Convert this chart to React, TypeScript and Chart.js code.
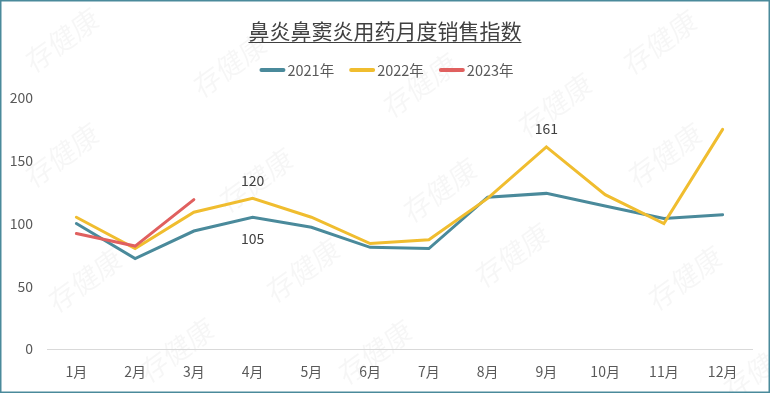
import React, { useEffect, useRef } from "react";
import { Chart, registerables } from "chart.js";

Chart.register(...registerables);

const TITLE = "鼻炎鼻窦炎用药月度销售指数";
const MONTHS = ["1月", "2月", "3月", "4月", "5月", "6月", "7月", "8月", "9月", "10月", "11月", "12月"];
const SERIES_NAMES = ["2021年", "2022年", "2023年"];
const SERIES_COLORS = ["#4a8a9b", "#f0bd2f", "#e0605f"];
const DATA_2021 = [100, 72, 94, 105, 97, 81, 80, 121, 124, 114, 104, 107];
const DATA_2022 = [105, 80, 109, 120, 105, 84, 87, 120, 161, 123, 100, 175];
const DATA_2023 = [92, 82, 119];
const Y_TICKS = [0, 50, 100, 150, 200];
// [datasetIndex, pointIndex, position]
const VALUE_LABELS: [number, number, "above" | "below"][] = [
  [1, 3, "above"],
  [0, 3, "below"],
  [1, 8, "above"],
];
const WATERMARK = "存健康";
const WATERMARK_SPOTS: [number, number][] = [
  [62, 40], [230, 65], [62, 155], [256, 180], [420, 85], [555, 105], [660, 42],
  [665, 155], [440, 190], [85, 280], [303, 270], [177, 350], [375, 352],
  [512, 255], [685, 278], [760, 368],
];

const FONT = '"Noto Sans CJK SC", "Noto Sans", sans-serif';

const decorPlugin = {
  id: "decor",
  beforeDraw(chart: any) {
    const ctx = chart.ctx;
    ctx.save();
    ctx.fillStyle = "#ffffff";
    ctx.fillRect(0, 0, chart.width, chart.height);
    ctx.font = `28px ${FONT}`;
    ctx.fillStyle = "rgba(0,0,0,0.035)";
    ctx.textAlign = "center";
    ctx.textBaseline = "middle";
    for (const [x, y] of WATERMARK_SPOTS) {
      ctx.save();
      ctx.translate(x, y);
      ctx.rotate(-Math.PI / 5);
      ctx.transform(1, 0, -0.15, 1, 0, 0);
      ctx.fillText(WATERMARK, 0, 0);
      ctx.restore();
    }
    // title
    ctx.font = `21px ${FONT}`;
    ctx.fillStyle = "#404040";
    ctx.textAlign = "center";
    ctx.textBaseline = "middle";
    const cx = chart.width / 2;
    ctx.fillText(TITLE, cx, 31);
    const tw = ctx.measureText(TITLE).width;
    ctx.strokeStyle = "#404040";
    ctx.lineWidth = 1;
    ctx.beginPath();
    ctx.moveTo(cx - tw / 2, 42.5);
    ctx.lineTo(cx + tw / 2, 42.5);
    ctx.stroke();
    // legend
    ctx.font = `14.5px ${FONT}`;
    const lineW = 24;
    const gap = 3;
    const spacing = 16;
    const widths = chart.data.datasets.map((d: any) => lineW + gap + ctx.measureText(d.label).width);
    const total = widths.reduce((a: number, b: number) => a + b, 0) + spacing * (widths.length - 1);
    let x = cx - total / 2 + 2;
    const ly = 70;
    chart.data.datasets.forEach((d: any, i: number) => {
      ctx.strokeStyle = d.borderColor;
      ctx.lineWidth = 4;
      ctx.lineCap = "round";
      ctx.beginPath();
      ctx.moveTo(x + 1, ly);
      ctx.lineTo(x + lineW - 1, ly);
      ctx.stroke();
      ctx.fillStyle = "#595959";
      ctx.textAlign = "left";
      ctx.fillText(d.label, x + lineW + gap, ly);
      x += widths[i] + spacing;
    });
    ctx.restore();
  },
  afterDatasetsDraw(chart: any) {
    const ctx = chart.ctx;
    ctx.save();
    ctx.font = `14px ${FONT}`;
    ctx.fillStyle = "#404040";
    ctx.textAlign = "center";
    ctx.textBaseline = "middle";
    for (const [di, pi, pos] of VALUE_LABELS) {
      const el = chart.getDatasetMeta(di).data[pi];
      const v = chart.data.datasets[di].data[pi];
      const y = pos === "above" ? el.y - 18 : el.y + 21;
      ctx.fillText(String(v), el.x, y);
    }
    ctx.restore();
  },
  afterDraw(chart: any) {
    const ctx = chart.ctx;
    ctx.save();
    ctx.strokeStyle = "#4a8a9b";
    ctx.lineWidth = 1.5;
    ctx.strokeRect(0.75, 0.75, chart.width - 1.5, chart.height - 1.5);
    ctx.restore();
  },
};

export default function App() {
  const ref = useRef<HTMLCanvasElement | null>(null);
  useEffect(() => {
    document.body.style.margin = "0";
    if (!ref.current) return;
    const datasets = [DATA_2021, DATA_2022, DATA_2023].map((data, i) => ({
      label: SERIES_NAMES[i],
      data,
      borderColor: SERIES_COLORS[i],
      backgroundColor: SERIES_COLORS[i],
      borderWidth: 3,
      pointRadius: 0,
      tension: 0,
      fill: false,
      borderCapStyle: "round" as const,
      borderJoinStyle: "miter" as const,
      order: 3 - i,
    }));
    const chart = new Chart(ref.current, {
      type: "line",
      data: { labels: MONTHS, datasets },
      options: {
        animation: false,
        responsive: false,
        layout: { padding: { top: 98, right: 18, left: 0, bottom: 0 } },
        plugins: {
          legend: { display: false },
          title: { display: false },
          tooltip: { enabled: false },
        },
        scales: {
          x: {
            offset: true,
            grid: { display: false, drawTicks: false },
            border: { display: true, color: "#d9d9d9", width: 1 },
            ticks: { color: "#595959", font: { size: 14, family: FONT }, padding: 14, maxRotation: 0 },
            afterFit(scale: any) {
              scale.height = 44;
            },
          },
          y: {
            min: 0,
            max: 200,
            afterBuildTicks(scale: any) {
              scale.ticks = Y_TICKS.map((v) => ({ value: v }));
            },
            grid: { display: false, drawTicks: false },
            border: { display: false },
            ticks: { color: "#595959", font: { size: 14, family: FONT }, padding: 14 },
            afterFit(scale: any) {
              scale.width = 47;
            },
          },
        },
      },
      plugins: [decorPlugin],
    });
    return () => chart.destroy();
  }, []);
  return (
    <div style={{ width: 770, height: 393 }}>
      <canvas ref={ref} width={770} height={393} style={{ display: "block", width: 770, height: 393 }} />
    </div>
  );
}
